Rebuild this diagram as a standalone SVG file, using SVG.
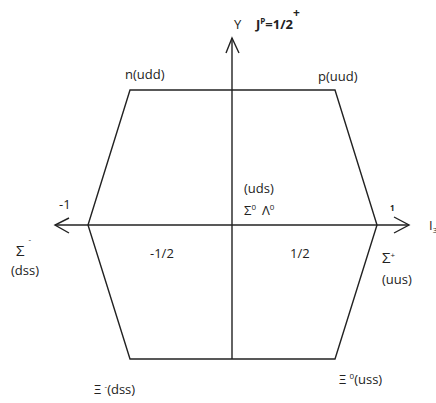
<svg xmlns="http://www.w3.org/2000/svg" width="436" height="403" viewBox="0 0 436 403">
<style>
text{font-family:"Open Sans","Liberation Sans",sans-serif;font-size:13px;fill:#222}
.ln{stroke:#222;stroke-width:1.4;fill:none}
.sm{font-size:8px}
.big{font-size:15px}
</style>
<rect width="436" height="403" fill="#fff"/>
<g id="connectors">
<polygon id="hexagon" class="ln" points="130,90 335,90 377,225 335,359 130,359 88,225"/>
<line id="y-axis" class="ln" x1="232" y1="38" x2="232" y2="359"/>
<polyline class="ln" points="226,53 232,38 239,53"/>
<line id="i-axis" class="ln" x1="55" y1="225" x2="409" y2="225"/>
<polyline class="ln" points="69,218 55,225 69,233"/>
<polyline class="ln" points="394,217 409,225 394,233"/>
</g>
<g id="axis-labels">
<text x="234" y="29">Y</text>
<text x="256" y="29" font-weight="bold">J<tspan class="sm" dy="-5">P</tspan><tspan dy="5">=1/2</tspan><tspan dy="-12" font-size="12">+</tspan></text>
<text x="59" y="209">-1</text>
<text x="390" y="211" class="sm" font-weight="bold">1</text>
<text x="429" y="230">I<tspan class="sm" dy="3">3</tspan></text>
<text x="150" y="258">-1/2</text>
<text x="290" y="258">1/2</text>
</g>
<g id="node-n"><text x="125" y="79">n(udd)</text></g>
<g id="node-p"><text x="318" y="81">p(uud)</text></g>
<g id="node-sigma-minus"><text x="16" y="256" class="big">Σ<tspan class="sm" dx="4" dy="-14">-</tspan></text><text x="11" y="275">(dss)</text></g>
<g id="node-sigma-plus"><text x="382" y="263" class="big">Σ<tspan class="sm" dy="-5">+</tspan></text><text x="382" y="284">(uus)</text></g>
<g id="node-center"><text x="244" y="193">(uds)</text><text x="244" y="215">Σ<tspan class="sm" dy="-5">0</tspan><tspan dx="6" dy="5">Λ</tspan><tspan class="sm" dy="-5">0</tspan></text></g>
<g id="node-xi-minus"><text x="94" y="394">Ξ <tspan class="sm" dy="-5">-</tspan><tspan dy="5">(dss)</tspan></text></g>
<g id="node-xi-zero"><text x="339" y="384">Ξ <tspan class="sm" dy="-5">0</tspan><tspan dy="5">(uss)</tspan></text></g>
</svg>
